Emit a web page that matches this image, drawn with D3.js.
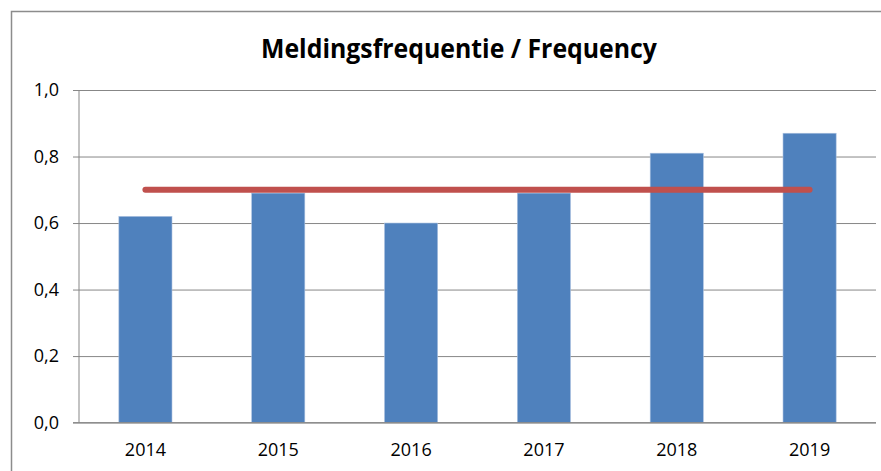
<!DOCTYPE html>
<html>
<head>
<meta charset="utf-8">
<script src="https://cdn.jsdelivr.net/npm/d3@7"></script>
<style>
  body { margin: 0; background: #fff; }
  svg { display: block; font-family: 'Open Sans', sans-serif; }
</style>
</head>
<body>
<svg id="chart" width="881" height="471"></svg>
<script>
const years = ['2014', '2015', '2016', '2017', '2018', '2019'];
const frequency = [0.62, 0.69, 0.60, 0.69, 0.81, 0.87];
const target = [0.7, 0.7, 0.7, 0.7, 0.7, 0.7];
const yTicks = [0, 0.2, 0.4, 0.6, 0.8, 1.0];
const title = 'Meldingsfrequentie / Frequency';

const width = 881;
const height = 471;
const margin = { top: 90, right: 5, bottom: 48.4, left: 79 };

const svg = d3.select('#chart').attr('viewBox', [0, 0, width, height]);

// chart frame
svg
  .append('rect')
  .attr('x', 11.5)
  .attr('y', 11.5)
  .attr('width', 900)
  .attr('height', 500)
  .attr('fill', 'none')
  .attr('stroke', '#8c8c8c')
  .attr('stroke-width', 1.5);

const x = d3
  .scaleBand()
  .domain(years)
  .range([margin.left, width - margin.right])
  .paddingInner(0.6)
  .paddingOuter(0.3);

const y = d3
  .scaleLinear()
  .domain([0, 1])
  .range([height - margin.bottom, margin.top]);

// gridlines + y axis
const yAxis = g =>
  g
    .attr('transform', `translate(${margin.left},0)`)
    .call(
      d3
        .axisLeft(y)
        .tickValues(yTicks)
        .tickFormat(d => d3.format('.1f')(d).replace('.', ','))
        .tickSize(6)
        .tickPadding(14)
    )
    .call(g => g.selectAll('.tick line').attr('stroke', '#878787'))
    .call(g => g.select('.domain').attr('stroke', '#878787').attr('d', `M0,${y(0)}V${y(1)}`))
    .call(g =>
      g
        .selectAll('.tick')
        .append('line')
        .attr('x2', width - margin.right - margin.left)
        .attr('stroke', '#878787')
    )
    .call(g =>
      g
        .selectAll('.tick text')
        .attr('fill', '#000')
        .attr('font-size', 18)
        .attr('font-family', "'Open Sans', sans-serif")
    );

svg.append('g').call(yAxis);

// bars
svg
  .append('g')
  .attr('fill', '#4f81bd')
  .selectAll('rect')
  .data(frequency)
  .join('rect')
  .attr('x', (d, i) => x(years[i]))
  .attr('width', x.bandwidth())
  .attr('y', d => y(d))
  .attr('height', d => y(0) - y(d))
  .attr('stroke', '#a9c0e0')
  .attr('stroke-width', 0.6);

// x axis
const xAxis = g =>
  g
    .attr('transform', `translate(0,${y(0)})`)
    .call(d3.axisBottom(x).tickSize(0).tickPadding(21))
    .call(g => g.select('.domain').attr('stroke', '#878787').attr('d', `M${margin.left - 6},0H${width - margin.right}`))
    .call(g =>
      g
        .selectAll('.tick text')
        .attr('fill', '#000')
        .attr('font-size', 18)
        .attr('font-family', "'Open Sans', sans-serif")
    );

svg.append('g').call(xAxis);

// target line
const line = d3
  .line()
  .x((d, i) => x(years[i]) + x.bandwidth() / 2)
  .y(d => y(d));

svg
  .append('path')
  .datum(target)
  .attr('fill', 'none')
  .attr('stroke', '#c0504d')
  .attr('stroke-width', 6)
  .attr('stroke-linecap', 'round')
  .attr('d', line);

// title
svg
  .append('text')
  .attr('x', 459)
  .attr('y', 58)
  .attr('text-anchor', 'middle')
  .attr('font-weight', 'bold')
  .attr('font-size', 27)
  .attr('textLength', 396)
  .attr('lengthAdjust', 'spacingAndGlyphs')
  .text(title);
</script>
</body>
</html>
